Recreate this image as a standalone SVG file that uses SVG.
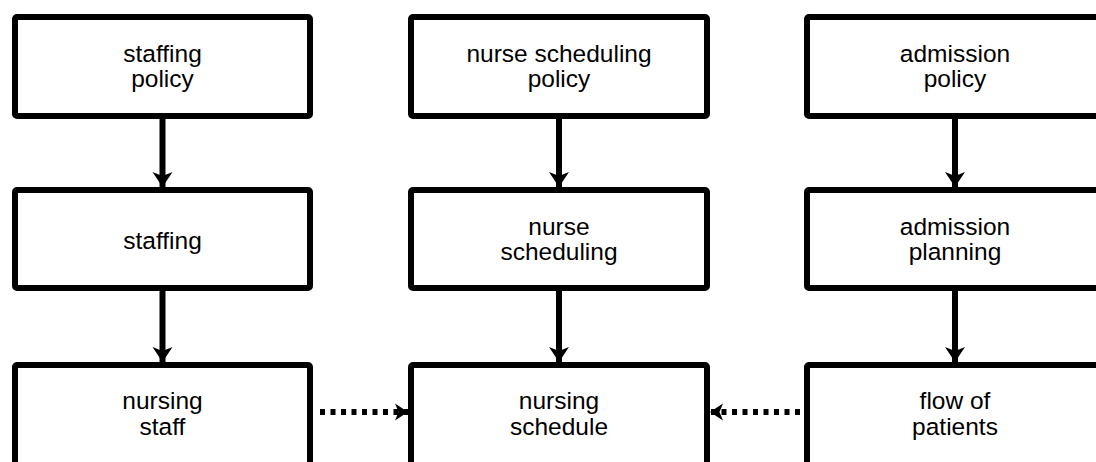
<svg xmlns="http://www.w3.org/2000/svg" width="1096" height="462" viewBox="0 0 1096 462">
<defs>
<style>
.box{fill:#fff;stroke:#000;stroke-width:6;stroke-linejoin:round}
.lbl{font-family:"Liberation Sans",Arial,sans-serif;font-size:24.5px;fill:#000;text-anchor:middle}
.edge{stroke:#000;stroke-width:6;fill:none}
.dash{stroke:#000;stroke-width:6;fill:none;stroke-dasharray:5 5.5}
</style>
<marker id="ah" markerUnits="userSpaceOnUse" markerWidth="22" markerHeight="22" refX="15" refY="0" viewBox="-1 -11 17 22" orient="auto">
<path d="M0,-10 L15,0 L0,10 L4,0 Z" fill="#000"/>
</marker>
<marker id="ahs" markerUnits="userSpaceOnUse" markerWidth="20" markerHeight="20" refX="13" refY="0" viewBox="-1 -10 16 20" orient="auto">
<path d="M0,-8.5 L13,0 L0,8.5 L3.5,0 Z" fill="#000"/>
</marker>
</defs>
<g id="connectors">
<line class="edge" x1="162.5" y1="119" x2="162.5" y2="187" marker-end="url(#ah)"/>
<line class="edge" x1="162.5" y1="291" x2="162.5" y2="362" marker-end="url(#ah)"/>
<line class="edge" x1="559" y1="119" x2="559" y2="187" marker-end="url(#ah)"/>
<line class="edge" x1="559" y1="291" x2="559" y2="362" marker-end="url(#ah)"/>
<line class="edge" x1="955" y1="119" x2="955" y2="187" marker-end="url(#ah)"/>
<line class="edge" x1="955" y1="291" x2="955" y2="362" marker-end="url(#ah)"/>
<line class="dash" x1="320" y1="412" x2="408" y2="412" marker-end="url(#ahs)"/>
<line class="dash" x1="800" y1="412" x2="710" y2="412" marker-end="url(#ahs)"/>
</g>
<g id="staffing-policy">
<rect class="box" x="15" y="17" width="295" height="99" rx="2"/>
<text class="lbl" x="162.5" y="62">staffing</text>
<text class="lbl" x="162.5" y="87">policy</text>
</g>
<g id="staffing">
<rect class="box" x="15" y="190" width="295" height="98" rx="2"/>
<text class="lbl" x="162.5" y="249">staffing</text>
</g>
<g id="nursing-staff">
<rect class="box" x="15" y="365" width="295" height="102" rx="2"/>
<text class="lbl" x="162.5" y="409">nursing</text>
<text class="lbl" x="162.5" y="435">staff</text>
</g>
<g id="nurse-scheduling-policy">
<rect class="box" x="411" y="17" width="296" height="99" rx="2"/>
<text class="lbl" x="559" y="62">nurse scheduling</text>
<text class="lbl" x="559" y="87">policy</text>
</g>
<g id="nurse-scheduling">
<rect class="box" x="411" y="190" width="296" height="98" rx="2"/>
<text class="lbl" x="559" y="235">nurse</text>
<text class="lbl" x="559" y="260">scheduling</text>
</g>
<g id="nursing-schedule">
<rect class="box" x="411" y="365" width="296" height="102" rx="2"/>
<text class="lbl" x="559" y="409">nursing</text>
<text class="lbl" x="559" y="435">schedule</text>
</g>
<g id="admission-policy">
<rect class="box" x="807" y="17" width="296" height="99" rx="2"/>
<text class="lbl" x="955" y="62">admission</text>
<text class="lbl" x="955" y="87">policy</text>
</g>
<g id="admission-planning">
<rect class="box" x="807" y="190" width="296" height="98" rx="2"/>
<text class="lbl" x="955" y="235">admission</text>
<text class="lbl" x="955" y="260">planning</text>
</g>
<g id="flow-of-patients">
<rect class="box" x="807" y="365" width="296" height="102" rx="2"/>
<text class="lbl" x="955" y="409">flow of</text>
<text class="lbl" x="955" y="435">patients</text>
</g>
</svg>
